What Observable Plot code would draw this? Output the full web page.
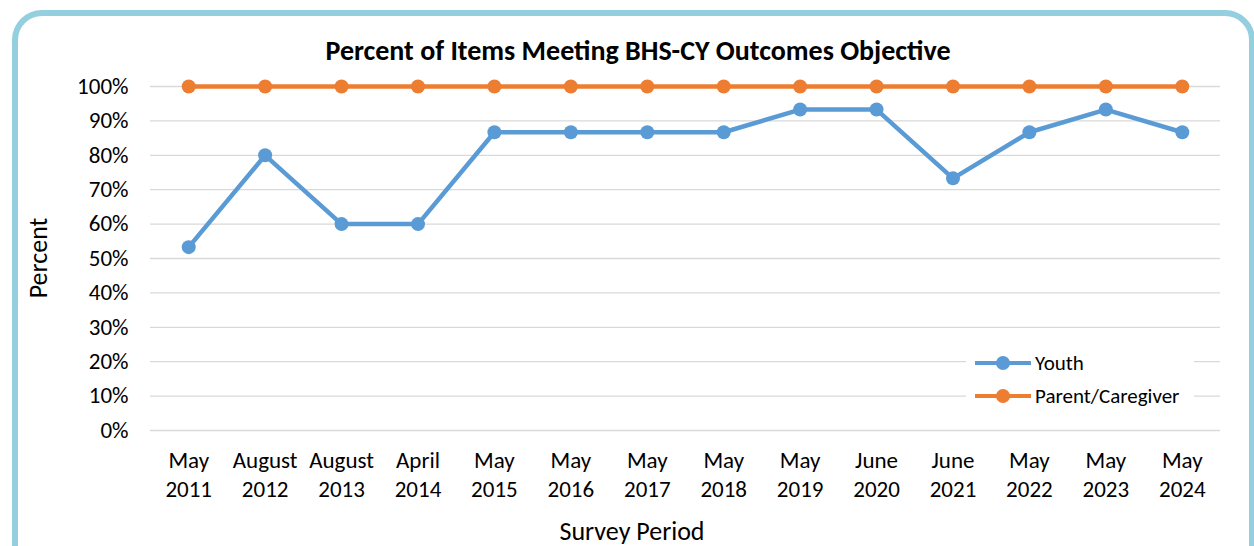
<!DOCTYPE html>
<html>
<head>
<meta charset="utf-8">
<script src="https://cdn.jsdelivr.net/npm/d3@7"></script>
<script src="https://cdn.jsdelivr.net/npm/@observablehq/plot@0.6"></script>
<style>
  html, body { margin: 0; padding: 0; background: #fff; overflow: hidden; }
  #wrap { position: relative; width: 1254px; height: 546px; overflow: hidden; font-family: Carlito, Lato, "Open Sans", sans-serif; color: #000; }
  #border { position: absolute; left: 12px; top: 10px; width: 1231px; height: 560px; border: 6px solid #94cfe0; border-radius: 30px; box-sizing: content-box; }
  #chart { position: absolute; left: 0; top: 0; }
  #title { position: absolute; left: 0; width: 1276px; top: 50px; transform: translateY(-50%); text-align: center; font-weight: bold; font-size: 28px; white-space: nowrap; }
  #ylabel { position: absolute; left: 38px; top: 258px; transform: translate(-50%, -50%) rotate(-90deg); font-size: 26px; white-space: nowrap; }
  #xlabel { position: absolute; left: 632px; top: 531px; transform: translate(-50%, -50%); font-size: 26px; white-space: nowrap; }
  #legend { position: absolute; left: 966px; top: 344px; width: 228px; background: #fff; font-size: 21px; padding: 2px 0; }
  .item { display: flex; align-items: center; height: 33px; }
  .sw { position: relative; width: 56px; height: 14px; margin-left: 9px; margin-right: 4px; }
  .sw .ln { position: absolute; left: 0; right: 0; top: 5px; height: 4px; }
  .sw .dt { position: absolute; left: 21px; top: 0; width: 14px; height: 14px; border-radius: 50%; }
</style>
</head>
<body>
<div id="wrap">
  <div id="chart"></div>
  <div id="border"></div>
  <div id="title">Percent of Items Meeting BHS-CY Outcomes Objective</div>
  <div id="ylabel">Percent</div>
  <div id="xlabel">Survey Period</div>
  <div id="legend"></div>
</div>
<script>
const periods = ["May 2011", "August 2012", "August 2013", "April 2014", "May 2015", "May 2016", "May 2017", "May 2018", "May 2019", "June 2020", "June 2021", "May 2022", "May 2023", "May 2024"];
const youth = [53.3, 80, 60, 60, 86.7, 86.7, 86.7, 86.7, 93.3, 93.3, 73.3, 86.7, 93.3, 86.7];
const parent = [100, 100, 100, 100, 100, 100, 100, 100, 100, 100, 100, 100, 100, 100];
const seriesNames = ["Youth", "Parent/Caregiver"];
const seriesColors = ["#5b9bd5", "#ed7d31"];
const yTicks = [0, 10, 20, 30, 40, 50, 60, 70, 80, 90, 100];

const data = [];
periods.forEach((p, i) => {
  data.push({period: p, value: youth[i], series: seriesNames[0]});
  data.push({period: p, value: parent[i], series: seriesNames[1]});
});

const chart = Plot.plot({
  width: 1254,
  height: 546,
  marginLeft: 150,
  marginRight: 34,
  marginTop: 86,
  marginBottom: 116,
  style: {fontFamily: "Carlito, Lato, 'Open Sans', sans-serif", background: "transparent", color: "#000"},
  x: {type: "point", domain: periods, padding: 0.5, round: false, label: null},
  y: {domain: [0, 100], label: null},
  color: {domain: seriesNames, range: seriesColors},
  marks: [
    Plot.ruleY(yTicks, {stroke: "#d9d9d9", strokeWidth: 1.3}),
    Plot.axisY({ticks: yTicks, tickSize: 0, tickPadding: 22, tickFormat: d => d + "%", fontSize: 23, label: null}),
    Plot.axisX({tickSize: 0, tickPadding: 17, tickFormat: d => d.replace(" ", "\n"), fontSize: 23, lineHeight: 1.26, label: null}),
    Plot.line(data, {x: "period", y: "value", z: "series", stroke: "series", strokeWidth: 4.5, strokeLinejoin: "round"}),
    Plot.dot(data, {x: "period", y: "value", fill: "series", r: 7})
  ]
});
document.getElementById("chart").appendChild(chart);

const legend = document.getElementById("legend");
seriesNames.forEach((n, i) => {
  const it = document.createElement("div");
  it.className = "item";
  it.innerHTML = `<div class="sw"><div class="ln" style="background:${seriesColors[i]}"></div><div class="dt" style="background:${seriesColors[i]}"></div></div><span>${n}</span>`;
  legend.appendChild(it);
});
</script>
</body>
</html>
